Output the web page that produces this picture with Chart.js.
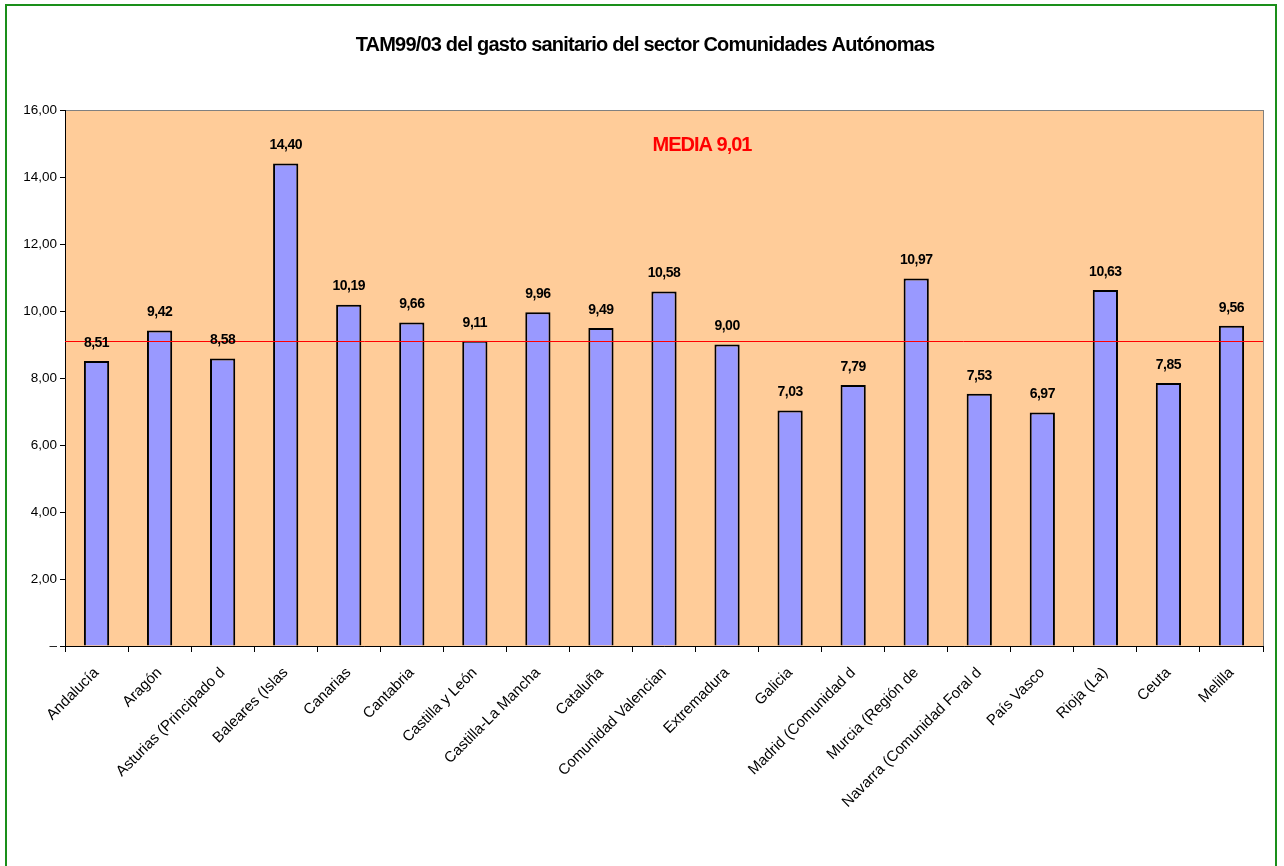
<!DOCTYPE html>
<html>
<head>
<meta charset="utf-8">
<script src="https://cdn.jsdelivr.net/npm/chart.js@4"></script>
<style>
html,body{margin:0;padding:0;background:#fff;}
#wrap{position:relative;width:1284px;height:866px;}
</style>
</head>
<body>
<div id="wrap"><canvas id="c" width="1284" height="866"></canvas></div>
<script>
const titleText = 'TAM99/03 del gasto sanitario del sector Comunidades Autónomas';
const categories = ['Andalucía','Aragón','Asturias (Principado d','Baleares (Islas','Canarias','Cantabria','Castilla y León','Castilla-La Mancha','Cataluña','Comunidad Valencian','Extremadura','Galicia','Madrid (Comunidad d','Murcia (Región de','Navarra (Comunidad Foral d','País Vasco','Rioja (La)','Ceuta','Melilla'];
const values = [8.51,9.42,8.58,14.40,10.19,9.66,9.11,9.96,9.49,10.58,9.00,7.03,7.79,10.97,7.53,6.97,10.63,7.85,9.56];
const mediaLabel = 'MEDIA 9,01';
const mediaLineValue = 9.1;
const yTicks = [0,2,4,6,8,10,12,14,16];

const fmt = v => v.toFixed(2).replace('.', ',');
const FONT = '"Liberation Sans", Arial, sans-serif';

const deco = {
  id: 'deco',
  beforeLayout(chart) { chart.ctx.letterSpacing = '0px'; },
  beforeDraw(chart) {
    const {ctx, chartArea: a} = chart;
    ctx.save();
    ctx.fillStyle = '#FFCC99';
    ctx.fillRect(a.left, a.top, a.right - a.left, a.bottom - a.top);
    ctx.strokeStyle = '#808080';
    ctx.lineWidth = 1;
    ctx.strokeRect(a.left + 0.5, a.top + 0.5, a.right - a.left, a.bottom - a.top);
    // outer green frame
    ctx.strokeStyle = '#1a8f1a';
    ctx.lineWidth = 2;
    ctx.strokeRect(6, 5, 1270, 900);
    // title
    ctx.fillStyle = '#000';
    ctx.font = 'bold 20px ' + FONT;
    ctx.letterSpacing = '-0.8px';
    ctx.textAlign = 'center';
    ctx.textBaseline = 'middle';
    ctx.fillText(titleText, 645, 45);
    ctx.restore();
    ctx.letterSpacing = '0px';
  },
  afterDatasetsDraw(chart) {
    const {ctx, chartArea: a, scales} = chart;
    const y = scales.y;
    ctx.save();
    // mean line
    const py = Math.round(y.getPixelForValue(mediaLineValue)) + 0.5;
    ctx.strokeStyle = '#FF0000';
    ctx.lineWidth = 1;
    ctx.beginPath();
    ctx.moveTo(a.left, py);
    ctx.lineTo(a.right, py);
    ctx.stroke();
    // media label
    ctx.fillStyle = '#FF0000';
    ctx.font = 'bold 20px ' + FONT;
    ctx.letterSpacing = '-1px';
    ctx.textAlign = 'center';
    ctx.textBaseline = 'middle';
    ctx.fillText(mediaLabel, 702, 145);
    // data labels
    const meta = chart.getDatasetMeta(0);
    ctx.fillStyle = '#000';
    ctx.font = 'bold 14px ' + FONT;
    ctx.letterSpacing = '-0.5px';
    meta.data.forEach((bar, i) => {
      ctx.fillText(fmt(values[i]), bar.x, bar.y - 18);
    });
    ctx.restore();
  }
};

new Chart(document.getElementById('c'), {
  type: 'bar',
  data: {
    labels: categories,
    datasets: [{
      data: values,
      backgroundColor: '#9999FF',
      borderColor: '#000000',
      borderWidth: 2,
      barPercentage: 0.4,
      categoryPercentage: 1.0
    }]
  },
  options: {
    responsive: false,
    animation: false,
    layout: { padding: { top: 110, right: 21, left: 0, bottom: 0 } },
    plugins: { legend: { display: false }, tooltip: { enabled: false }, title: { display: false } },
    scales: {
      x: {
        grid: { display: true, drawOnChartArea: false, offset: true, color: '#000', tickLength: 6 },
        border: { color: '#000' },
        ticks: {
          minRotation: 45, maxRotation: 45, autoSkip: false,
          color: '#000', padding: 12,
          font: { family: FONT, size: 15 }
        },
        afterFit(s) { s.height = 220; }
      },
      y: {
        min: 0, max: 16,
        afterBuildTicks(s) { s.ticks = yTicks.map(v => ({ value: v })); },
        grid: { display: true, drawOnChartArea: false, color: '#000', tickLength: 5 },
        border: { color: '#000' },
        ticks: {
          color: '#000', padding: 3,
          font: { family: FONT, size: 13.5 },
          callback: v => v === 0 ? '–' : fmt(v)
        },
        afterFit(s) { s.width = 65; }
      }
    }
  },
  plugins: [deco]
});
</script>
</body>
</html>
